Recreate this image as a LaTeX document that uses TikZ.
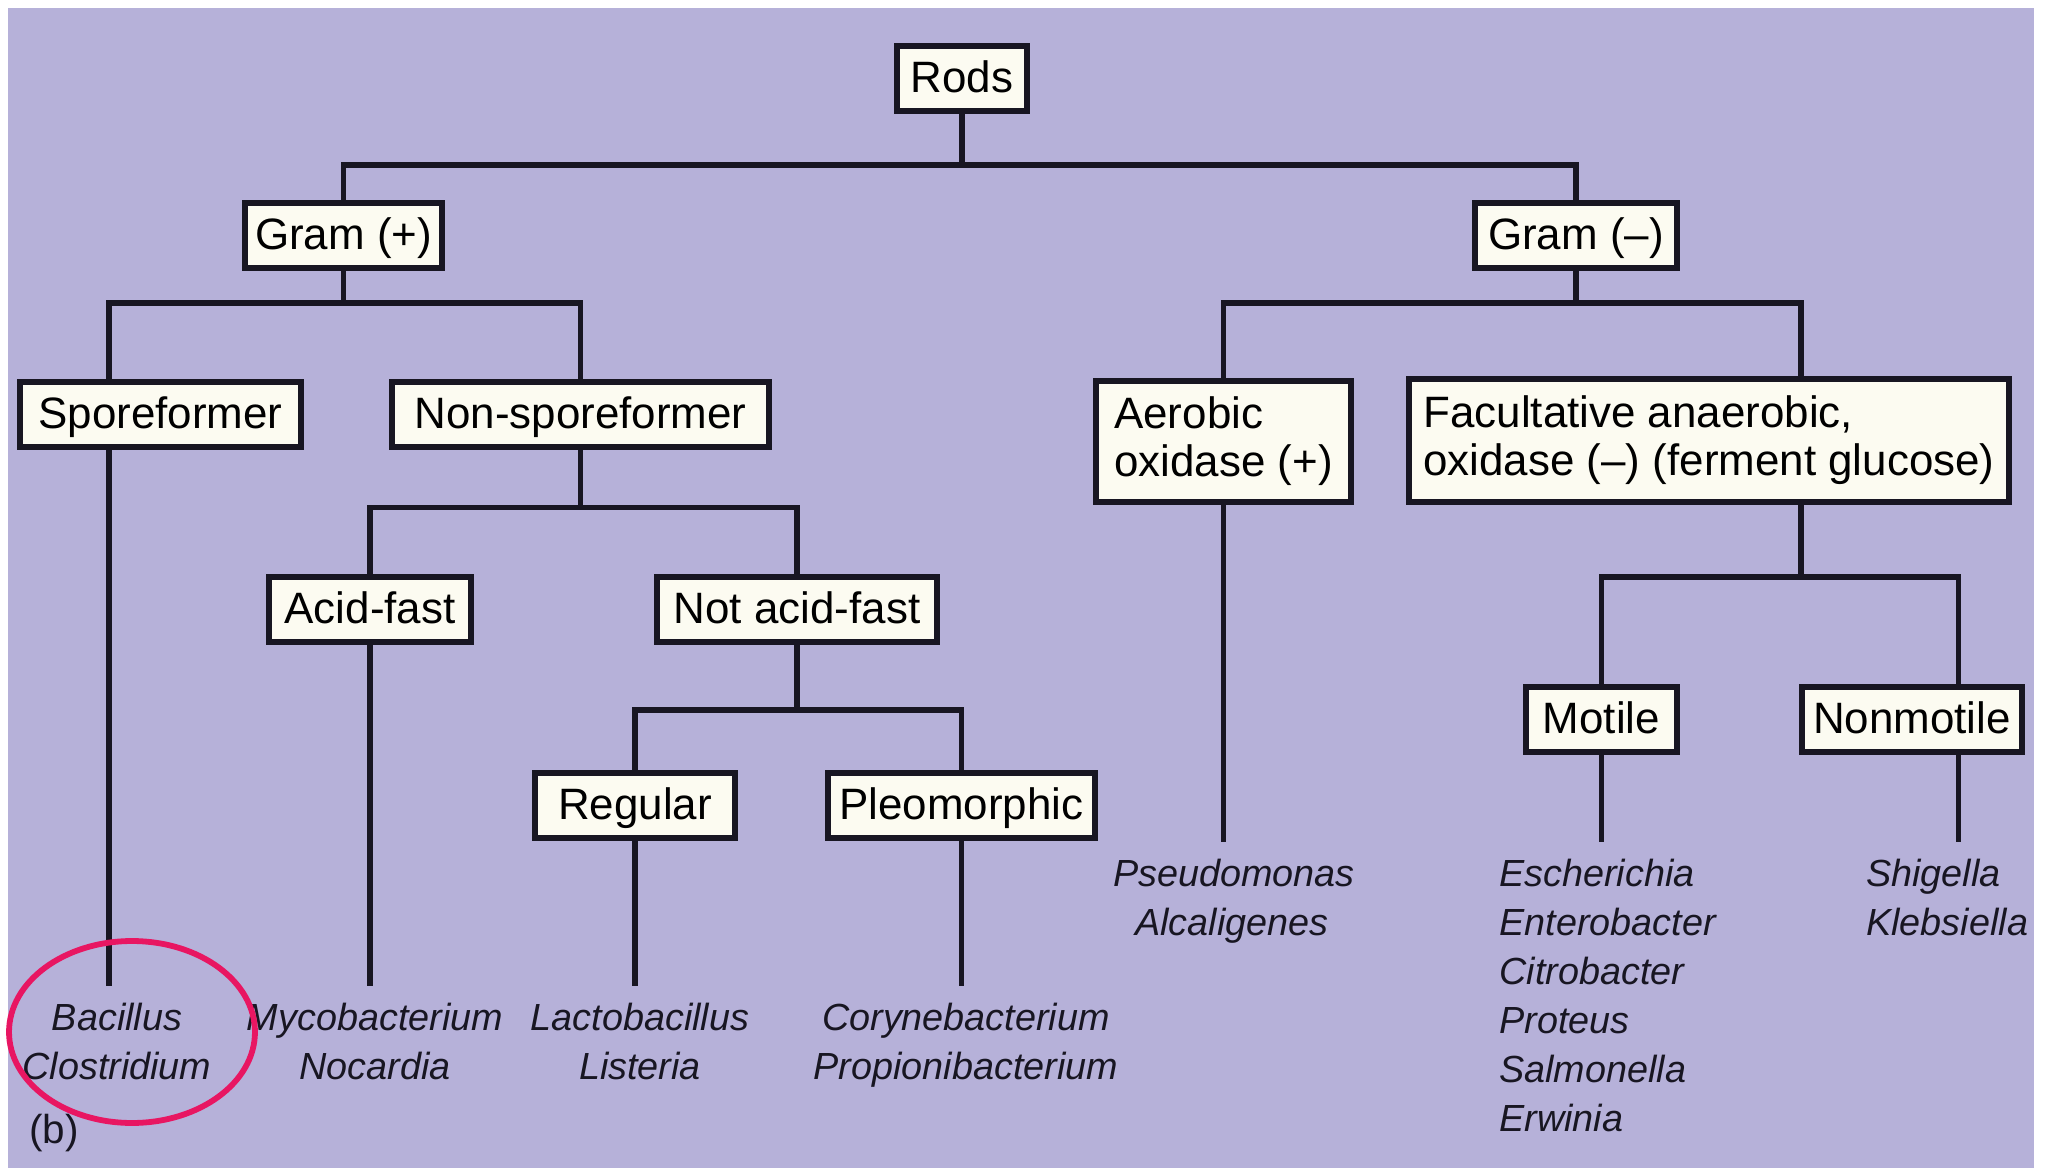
\documentclass[tikz,border=0pt]{standalone}
\usepackage{fontspec}
\setmainfont{Liberation Sans}
\usetikzlibrary{calc,shapes.geometric}
\definecolor{bgpurple}{RGB}{182,177,217}
\definecolor{boxfill}{RGB}{252,251,241}
\definecolor{ink}{RGB}{24,22,34}
\definecolor{ringred}{RGB}{232,22,98}
\begin{document}
\begin{tikzpicture}[x=0.02cm,y=-0.02cm,
  box/.style={draw=ink, line width=3pt, fill=boxfill, inner sep=0pt,
    font=\fontsize{25}{27.4}\selectfont, text height=18pt, text depth=2pt,
    minimum height=1.3cm},
  box2/.style={draw=ink, line width=3pt, fill=boxfill, inner sep=0pt,
    font=\fontsize{25}{27.4}\selectfont, align=left},
  conn/.style={draw=ink, line width=2.9pt},
  leafconn/.style={conn, shorten >=9.6pt},
  leaf/.style={inner sep=0pt, font=\fontsize{21.5}{27.9}\selectfont\itshape, text=ink},
]
\useasboundingbox (0,0) rectangle (2051,1168);
\fill[white] (0,0) rectangle (2051,1168);
\fill[bgpurple] (8,8) rectangle (2034,1168);

% y levels of the junction bars
\coordinate (y1) at (0,165);
\coordinate (y2) at (0,303);
\coordinate (y3) at (0,507.5);
\coordinate (y4) at (0,710);
\coordinate (y5) at (0,577);

% boxes
\node[box, minimum width=2.6cm]  (rods)   at (962,78.5)    {Rods};
\node[box, minimum width=3.94cm] (gp)     at (343.5,235.5) {Gram (+)};
\node[box, minimum width=4.04cm] (gm)     at (1576,235.5)  {Gram (–)};
\node[box, minimum width=5.62cm] (spore)  at (160.5,414.5) {Sporeformer};
\node[box, minimum width=7.54cm] (ns)     at (580.5,414.5) {Non-sporeformer};
\node[box, minimum width=4.04cm] (acid)   at (370,609.5)   {Acid-fast};
\node[box, minimum width=5.6cm]  (nacid)  at (797,609.5)   {Not acid-fast};
\node[box, minimum width=4.0cm]  (reg)    at (635,805.5)   {Regular};
\node[box, minimum width=5.34cm] (pleo)   at (961.5,805.5) {Pleomorphic};
\node[box2, minimum width=5.1cm, minimum height=2.42cm] (aer) at (1223.5,441.5)
  {Aerobic\\oxidase (+)};
\node[box2, minimum width=12.0cm, minimum height=2.46cm] (fac) at (1709,440.5)
  {Facultative anaerobic,\\oxidase (–) (ferment glucose)};
\node[box, minimum width=3.02cm] (mot)    at (1601.5,719.5) {Motile};
\node[box, minimum width=4.4cm]  (nonmot) at (1912,719.5)   {Nonmotile};

% junction points that are off-centre on their boxes
\coordinate (sJ) at ($(spore.north west)!0.32!(spore.north east)$);
\coordinate (fJ) at ($(fac.north west)!0.652!(fac.north east)$);
\coordinate (nJ) at ($(nonmot.north west)!0.705!(nonmot.north east)$);

% leaves
\node[leaf, anchor=north, align=center] (bac)   at (117,1003) {Bacillus\\Clostridium};
\node[leaf, anchor=north, align=center] (myco)  at (375,1003) {Mycobacterium\\Nocardia};
\node[leaf, anchor=north, align=center] (lacto) at (640,1003) {Lactobacillus\\Listeria};
\node[leaf, anchor=north, align=center] (cory)  at (966,1003) {Corynebacterium\\Propionibacterium};
\node[leaf, anchor=north west, align=left] (pseudo) at (1113,859)
  {Pseudomonas\\\hspace{12.5pt}Alcaligenes};
\node[leaf, anchor=north west, align=left] (ent) at (1499,859)
  {Escherichia\\Enterobacter\\Citrobacter\\Proteus\\Salmonella\\Erwinia};
\node[leaf, anchor=north west, align=left] (shig) at (1866,859)
  {Shigella\\Klebsiella};

% connectors
\draw[conn] (rods.south) -- (rods.south |- y1);
\draw[conn] (gp.north) |- (gm.north |- y1) -- (gm.north);

\draw[conn] (gp.south) -- (gp.south |- y2);
\draw[conn] (sJ) |- (ns.north |- y2) -- (ns.north);
\draw[leafconn] (sJ |- spore.south) -- (sJ |- bac.north);

\draw[conn] (ns.south) -- (ns.south |- y3);
\draw[conn] (acid.north) |- (nacid.north |- y3) -- (nacid.north);
\draw[leafconn] (acid.south) -- (acid.south |- myco.north);

\draw[conn] (nacid.south) -- (nacid.south |- y4);
\draw[conn] (reg.north) |- (pleo.north |- y4) -- (pleo.north);
\draw[leafconn] (reg.south) -- (reg.south |- lacto.north);
\draw[leafconn] (pleo.south) -- (pleo.south |- cory.north);

\draw[conn] (gm.south) -- (gm.south |- y2);
\draw[conn] (aer.north) |- (fJ |- y2) -- (fJ);
\draw[leafconn] (aer.south) -- (aer.south |- pseudo.north);

\draw[conn] (fJ |- fac.south) -- (fJ |- y5);
\draw[conn] (mot.north) |- (nJ |- y5) -- (nJ);
\draw[leafconn] (mot.south) -- (mot.south |- ent.north);
\draw[leafconn] (nJ |- nonmot.south) -- (nJ |- shig.north);

% highlight ring and panel label
\node[draw=ringred, line width=3.3pt, ellipse, inner sep=0pt,
  minimum width=4.92cm, minimum height=3.64cm] (ring) at (132,1032) {};
\node[anchor=west, inner sep=0pt, text=ink, font=\fontsize{23}{27}\selectfont]
  (lbl) at (29,1133) {(b)};
\end{tikzpicture}
\end{document}
